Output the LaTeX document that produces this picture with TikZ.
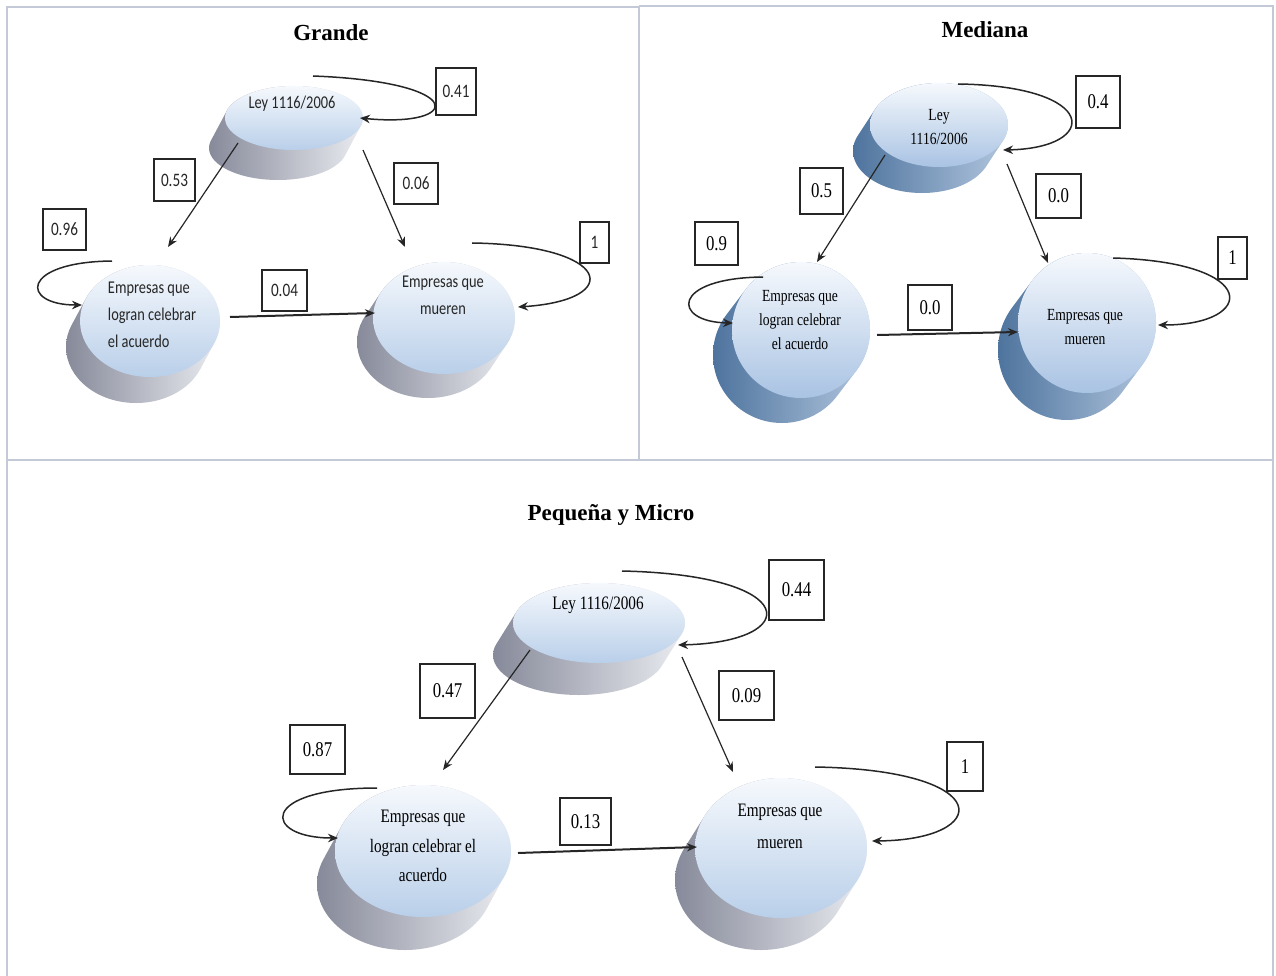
\documentclass[tikz,border=0pt]{standalone}
\usepackage{fontspec}
\setmainfont{Liberation Serif}
\newfontfamily\gfont[FakeStretch=0.8]{Carlito}
\newfontfamily\sfont[FakeStretch=0.8]{Liberation Serif}
\usetikzlibrary{arrows.meta,shapes.geometric,calc}
\definecolor{facetop}{HTML}{F6F9FD}
\definecolor{facebot}{HTML}{B9CFE9}
\definecolor{mfacebot}{HTML}{A9C3E3}
\definecolor{gsideL}{HTML}{858898}
\definecolor{gsideM}{HTML}{B2B5C3}
\definecolor{gsideR}{HTML}{ECEEF3}
\definecolor{msideL}{HTML}{4C729C}
\definecolor{msideM}{HTML}{7896B9}
\definecolor{msideR}{HTML}{B4C8E0}
\definecolor{framecol}{HTML}{C3C9D6}
\newcommand{\disc}[8]{%
  \begin{scope}
    \clip \foreach \pp in {0,0.05,...,1.0001} {({#1+\pp*(#5)}, {#2+\pp*(#6)}) ellipse (#3 and #4)};
    \shade[#7] ({#1-#3+(#5)-3}, {#2-#4-3}) rectangle ({#1+#3+3}, {#2+#4+(#6)+3});
  \end{scope}
  \shade[top color=facetop, bottom color=#8] (#1,#2) ellipse (#3 and #4);
}
\newcommand{\bx}[7]{\node[#1, minimum width=#5pt, minimum height=#6pt] (#2) at (#3,#4) {#7};}
\tikzset{
  gside/.style={left color=gsideL, middle color=gsideM, right color=gsideR},
  mside/.style={left color=msideL, middle color=msideM, right color=msideR},
  frame/.style={draw=framecol, line width=2pt},
  ttl/.style={font=\bfseries\fontsize{23}{26}\selectfont, inner sep=0pt},
  gtxt/.style={font=\gfont\fontsize{18}{27}\selectfont, inner sep=0pt, text=black!85},
  mtxt/.style={font=\sfont\fontsize{17}{24}\selectfont, inner sep=0pt, text=black},
  btxt/.style={font=\sfont\fontsize{19}{29.5}\selectfont, inner sep=0pt, text=black},
  gbox/.style={draw=black!85, line width=1.2pt, inner sep=0pt, font=\gfont\fontsize{19}{20}\selectfont, text=black!85},
  mbox/.style={draw=black!85, line width=1.2pt, inner sep=0pt, font=\sfont\fontsize{21}{22}\selectfont},
  bbox/.style={draw=black!85, line width=1.2pt, inner sep=0pt, font=\sfont\fontsize{21}{22}\selectfont},
  arr/.style={draw=black!85, line width=1.2pt, -{Stealth[length=10pt,width=8pt]}},
  harr/.style={arr, line width=2pt},
  lp/.style={draw=black!85, line width=1.5pt, -{Stealth[length=10pt,width=8.5pt]}},
}
\begin{document}
\begin{tikzpicture}[x=1pt,y=-1pt]
\useasboundingbox (0,0) rectangle (1276,976);
\fill[white] (0,0) rectangle (1276,976);
% frames
\draw[frame] (7,976) -- (7,7) -- (639,7);
\draw[frame] (639,6) -- (1273,6) -- (1273,976);
\draw[frame] (639,6) -- (639,460);
\draw[frame] (7,460) -- (1273,460);

% ================= Grande =================
\node[ttl] (tg) at (331,33) {Grande};
\disc{294}{118}{69}{32}{-16}{30}{gside}{facebot}
\node[gtxt] (gley) at (292,104) {Ley 1116/2006};
\disc{150}{321}{70}{56}{-14}{26}{gside}{facebot}
\node[gtxt, align=left] (gleft) at (152,315) {Empresas que\\logran celebrar\\el acuerdo};
\disc{444}{318}{71}{56}{-16}{24}{gside}{facebot}
\node[gtxt, align=center] (gright) at (443,295) {Empresas que\\mueren};

\bx{gbox}{g41}{456}{91.5}{40}{47}{0.41}
\bx{gbox}{g53}{174.5}{180}{41}{42}{0.53}
\bx{gbox}{g06}{416}{183.5}{44}{41}{0.06}
\bx{gbox}{g96}{64.5}{229.5}{43}{41}{0.96}
\bx{gbox}{g04}{284.5}{290.5}{45}{41}{0.04}
\bx{gbox}{g1}{594.5}{242.5}{29}{41}{1}

\coordinate (ga1) at (313,76);  \coordinate (ga2) at (360,118);
\coordinate (gb1) at (238,143); \coordinate (gb2) at (168,247);
\coordinate (gc1) at (363,150); \coordinate (gc2) at (405,247);
\coordinate (gd1) at (112,261); \coordinate (gd2) at (82,305);
\coordinate (ge1) at (230,317); \coordinate (ge2) at (375,313);
\coordinate (gf1) at (472,243); \coordinate (gf2) at (518,307);
\draw[lp] (ga1) .. controls (470,82) and (462,128) .. (ga2);
\draw[arr] (gb1) -- (gb2);
\draw[arr] (gc1) -- (gc2);
\draw[lp] (gd1) .. controls (20,262) and (20,305) .. (gd2);
\draw[harr] (ge1) -- (ge2);
\draw[lp] (gf1) .. controls (612,245) and (625,300) .. (gf2);

% ================= Mediana =================
\node[ttl] (tm) at (985,30) {Mediana};
\disc{939}{125}{69}{42}{-17}{26}{mside}{mfacebot}
\node[mtxt, align=center] (mley) at (939,127) {Ley\\1116/2006};
\disc{801}{330}{69}{68}{-19}{25}{mside}{mfacebot}
\node[mtxt, align=center] (mleft) at (800,320) {Empresas que\\logran celebrar\\el acuerdo};
\disc{1087}{323}{69}{70}{-20}{27}{mside}{mfacebot}
\node[mtxt, align=center] (mright) at (1085,327) {Empresas que\\mueren};

\bx{mbox}{m04}{1098}{102}{44}{52}{0.4}
\bx{mbox}{m05}{821.5}{191}{43}{46}{0.5}
\bx{mbox}{m00a}{1058.5}{196}{45}{44}{0.0}
\bx{mbox}{m09}{716.5}{243.5}{43}{43}{0.9}
\bx{mbox}{m00b}{930}{307.5}{44}{45}{0.0}
\bx{mbox}{m1}{1232.5}{258}{29}{42}{1}

\coordinate (ma1) at (958,84);   \coordinate (ma2) at (1003,150);
\coordinate (mb1) at (885,155);  \coordinate (mb2) at (817,262);
\coordinate (mc1) at (1007,164); \coordinate (mc2) at (1048,263);
\coordinate (md1) at (763,277);  \coordinate (md2) at (733,323);
\coordinate (me1) at (877,335);  \coordinate (me2) at (1018,332);
\coordinate (mf1) at (1113,258); \coordinate (mf2) at (1158,325);
\draw[lp] (ma1) .. controls (1100,86) and (1100,148) .. (ma2);
\draw[arr] (mb1) -- (mb2);
\draw[arr] (mc1) -- (mc2);
\draw[lp] (md1) .. controls (670,278) and (672,322) .. (md2);
\draw[harr] (me1) -- (me2);
\draw[lp] (mf1) .. controls (1262,262) and (1256,325) .. (mf2);

% ================= Pequena y Micro =================
\node[ttl] (tp) at (611,515) {Pequeña y Micro};
\disc{599}{623}{86}{40}{-20}{32}{gside}{facebot}
\node[btxt] (bley) at (598,605) {Ley 1116/2006};
\disc{423}{851}{88}{66}{-18}{33}{gside}{facebot}
\node[btxt, align=center] (bleft) at (423,846) {Empresas que\\logran celebrar el\\acuerdo};
\disc{781}{848}{86}{70}{-20}{32}{gside}{facebot}
\node[btxt, align=center, font=\sfont\fontsize{19}{32}\selectfont] (bright) at (780,826) {Empresas que\\mueren};

\bx{bbox}{b44}{796.5}{590}{55}{60}{0.44}
\bx{bbox}{b47}{447.5}{691}{55}{54}{0.47}
\bx{bbox}{b09}{746.5}{695.5}{55}{49}{0.09}
\bx{bbox}{b87}{317.5}{749.5}{55}{49}{0.87}
\bx{bbox}{b13}{585.5}{821.5}{51}{47}{0.13}
\bx{bbox}{b1}{965}{766.5}{36}{49}{1}

\coordinate (ba1) at (622,571); \coordinate (ba2) at (678,645);
\coordinate (bb1) at (530,650); \coordinate (bb2) at (443,770);
\coordinate (bc1) at (682,657); \coordinate (bc2) at (733,772);
\coordinate (bd1) at (377,788); \coordinate (bd2) at (338,838);
\coordinate (be1) at (518,853); \coordinate (be2) at (697,847);
\coordinate (bf1) at (815,767); \coordinate (bf2) at (872,841);
\draw[lp] (ba1) .. controls (803,575) and (803,642) .. (ba2);
\draw[arr] (bb1) -- (bb2);
\draw[arr] (bc1) -- (bc2);
\draw[lp] (bd1) .. controls (258,788) and (262,838) .. (bd2);
\draw[harr] (be1) -- (be2);
\draw[lp] (bf1) .. controls (998,770) and (992,840) .. (bf2);
\end{tikzpicture}
\end{document}
